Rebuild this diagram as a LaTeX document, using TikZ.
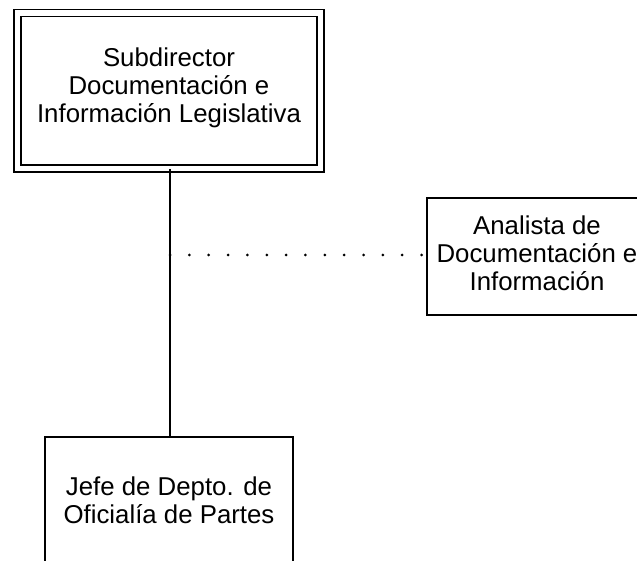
\documentclass[tikz,border=0pt]{standalone}
\usepackage{fontspec}
\setmainfont{Liberation Sans}
\begin{document}
\begin{tikzpicture}[x=1pt,y=-1pt,
  every node/.style={font=\fontsize{25.8}{28}\selectfont, align=center, inner sep=0pt},
  boxnode/.style={draw, line width=1.6pt, rectangle},
  dblbox/.style={draw, line width=1.6pt, double, double distance=5.4pt, rectangle},
  link/.style={line width=1.6pt},
  dotlink/.style={line width=3pt, line cap=round, dash pattern=on 0pt off 19.35pt}]
\useasboundingbox (0,0) rectangle (637,561);
\node[dblbox, minimum width=303pt, minimum height=155.5pt] (sub) at (169,90.75) {};
\node (subtxt) at (169,87.5) {Subdirector\\Documentación e\\Información Legislativa};
\node[boxnode, minimum width=248pt, minimum height=140pt] (jefe) at (169,507) {};
\node (jefetxt) at (169,500.5) {Jefe de Depto. de\\Oficialía de Partes};
\node[boxnode, minimum width=220pt, minimum height=117pt] (ana) at (537,256.5) {};
\node (anatxt) at (537,253.5) {Analista de\\Documentación e\\Información};
\draw[link] (sub.south -| 170,0) -- (jefe.north -| 170,0);
\coordinate (branch) at (170,255);
\draw[dotlink] (branch) -- (ana.west |- branch);
\end{tikzpicture}
\end{document}
